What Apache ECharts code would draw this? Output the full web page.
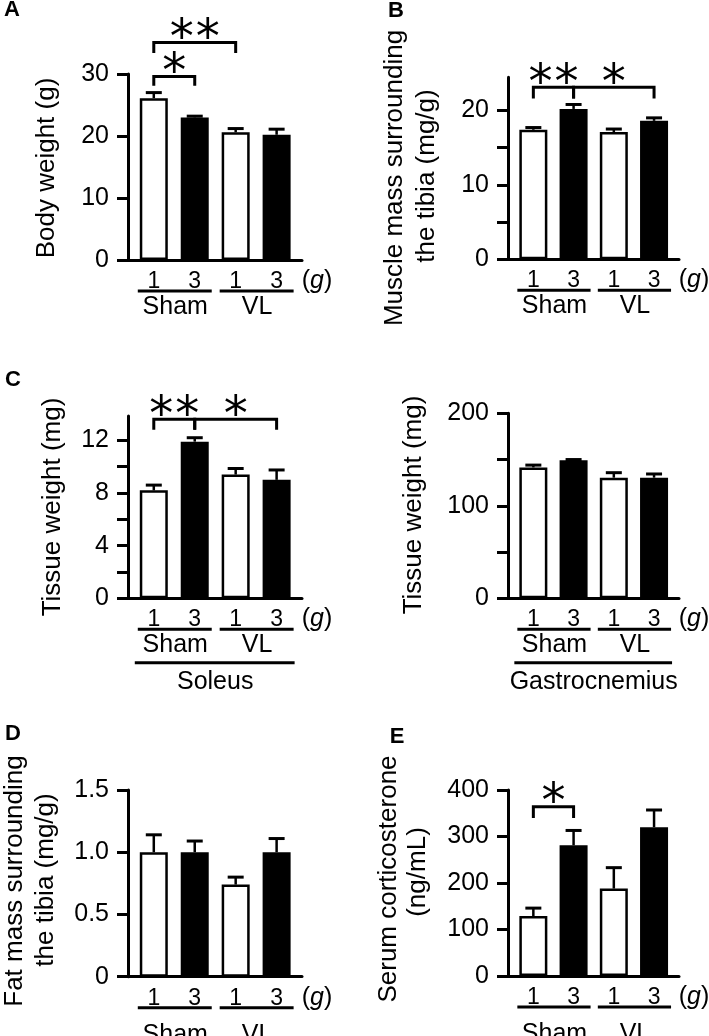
<!DOCTYPE html>
<html><head><meta charset="utf-8">
<script src="https://cdn.jsdelivr.net/npm/echarts@6/dist/echarts.min.js"></script>
<style>html,body{margin:0;padding:0;background:#fff}#c{width:709px;height:1036px}</style>
</head><body><div id="c"></div>
<script>
const FONT = '"Liberation Sans", Arial, Helvetica, sans-serif';
const STAR_FONT = '"DejaVu Sans", sans-serif';

// ---- data ----
const doses = ['1', '3', '1', '3'];
const xPos = [1, 2, 3, 4];
const groupNames = ['Sham', 'VL'];
const groupSpans = [[1, 2], [3, 4]];

const bodyWeight = [26.1, 23.0, 20.6, 20.2];
const bodyWeightSem = [0.9, 0.2, 0.6, 0.9];
const muscleMass = [17.4, 20.2, 17.1, 18.6];
const muscleMassSem = [0.3, 0.6, 0.4, 0.4];
const soleus = [8.2, 11.9, 9.4, 9.0];
const soleusSem = [0.4, 0.3, 0.46, 0.75];
const gastrocnemius = [141.5, 149.2, 130.4, 130.4];
const gastrocnemiusSem = [2.5, 0.8, 5.4, 4.0];
const fatMass = [1.0, 1.0, 0.74, 1.0];
const fatMassSem = [0.14, 0.09, 0.06, 0.11];
const corticosterone = [129, 281, 188, 320];
const corticosteroneSem = [17, 32, 45, 37];

const ticksA = [0, 10, 20, 30];
const labelsA = [0, 10, 20, 30];
const ticksB = [0, 5, 10, 15, 20];
const labelsB = [0, 10, 20];
const ticksC1 = [0, 2, 4, 6, 8, 10, 12];
const labelsC1 = [0, 4, 8, 12];
const ticksC2 = [0, 50, 100, 150, 200];
const labelsC2 = [0, 100, 200];
const ticksD = [0, 0.5, 1, 1.5];
const labelsD = [0, 0.5, 1, 1.5];
const ticksE = [0, 100, 200, 300, 400];
const labelsE = [0, 100, 200, 300, 400];

// significance brackets: [fromX, toX, bracketY, legEndY], marks separately
const sigA = [[1, 2, 29.6, 28.1], [1, 3, 35.1, 33.4]];
const sigAMarks = ['*', '**'];
const sigB = [[1, 2, 23.1, 21.6], [2, 4, 23.1, 21.6]];
const sigBMarks = ['**', '*'];
const sigC1 = [[1, 2, 13.6, 12.8], [2, 4, 13.6, 12.8]];
const sigC1Marks = ['**', '*'];
const sigE = [[1, 2, 364, 340]];
const sigEMarks = ['*'];

// ---- layout ----
const X_MIN = 0.37, X_MAX = 4.62;
const fmtInt = v => String(v);
const fmtOne = v => (v === 0 ? '0' : v.toFixed(1));

const panels = [
  {grid: {left: 128, top: 74, width: 174, height: 186}, yMax: 30, values: bodyWeight, sem: bodyWeightSem,
   ticks: ticksA, labels: labelsA, fmt: fmtInt, sig: sigA, marks: sigAMarks, groupOff: 47},
  {grid: {left: 508, top: 77.3, width: 171, height: 182}, yMax: 24.45, values: muscleMass, sem: muscleMassSem,
   ticks: ticksB, labels: labelsB, fmt: fmtInt, sig: sigB, marks: sigBMarks, groupOff: 47},
  {grid: {left: 128, top: 416, width: 174, height: 182.3}, yMax: 13.85, values: soleus, sem: soleusSem,
   ticks: ticksC1, labels: labelsC1, fmt: fmtInt, sig: sigC1, marks: sigC1Marks, groupOff: 47, tissue: 'Soleus'},
  {grid: {left: 508, top: 413.3, width: 171, height: 185}, yMax: 200, values: gastrocnemius, sem: gastrocnemiusSem,
   ticks: ticksC2, labels: labelsC2, fmt: fmtInt, sig: [], marks: [], groupOff: 47, tissue: 'Gastrocnemius'},
  {grid: {left: 128, top: 790, width: 174, height: 186.7}, yMax: 1.5, values: fatMass, sem: fatMassSem,
   ticks: ticksD, labels: labelsD, fmt: fmtOne, sig: [], marks: [], groupOff: 58},
  {grid: {left: 508, top: 790, width: 171, height: 186}, yMax: 400, values: corticosterone, sem: corticosteroneSem,
   ticks: ticksE, labels: labelsE, fmt: fmtInt, sig: sigE, marks: sigEMarks, groupOff: 58}
];

const grids = [], xAxes = [], yAxes = [], series = [];
const line = (x1, y1, x2, y2, w) => ({type: 'line', shape: {x1, y1, x2, y2}, style: {stroke: '#000', lineWidth: w}});
const txt = (x, y, text, size, extra) => ({type: 'text', x, y,
  style: Object.assign({text, fill: '#000', fontSize: size, fontFamily: FONT, align: 'center', verticalAlign: 'middle'}, extra || {})});

panels.forEach((p, i) => {
  grids.push(Object.assign({containLabel: false, outerBoundsMode: 'none'}, p.grid));
  xAxes.push({
    type: 'value', gridIndex: i, min: X_MIN, max: X_MAX,
    axisLine: {show: true, onZero: false, lineStyle: {color: '#000', width: 3}},
    axisTick: {show: false}, splitLine: {show: false},
    axisLabel: {show: true, customValues: xPos, formatter: v => doses[Math.round(v) - 1],
      color: '#000', fontSize: 23, fontFamily: FONT, margin: 10}
  });
  yAxes.push({
    type: 'value', gridIndex: i, min: 0, max: p.yMax,
    axisLine: {show: true, lineStyle: {color: '#000', width: 3}},
    axisTick: {show: true, inside: false, length: 11, lineStyle: {color: '#000', width: 3}, customValues: p.ticks},
    axisLabel: {show: true, customValues: p.labels, formatter: p.fmt, color: '#000', fontSize: 25, fontFamily: FONT, margin: 19},
    splitLine: {show: false}
  });
  series.push({
    type: 'bar', xAxisIndex: i, yAxisIndex: i, barWidth: 28, silent: true, z: 2,
    itemStyle: {borderColor: '#000', borderWidth: 2.5},
    data: p.values.map((v, j) => ({value: [xPos[j], v], itemStyle: {color: doses[j] === '3' ? '#000' : '#fff'}}))
  });
  series.push({
    type: 'custom', xAxisIndex: i, yAxisIndex: i, clip: false, silent: true, z: 3,
    data: p.values.map((v, j) => [xPos[j], v, v + p.sem[j]]),
    renderItem: (params, api) => {
      const b = api.coord([api.value(0), api.value(1)]);
      const t = api.coord([api.value(0), api.value(2)]);
      return {type: 'group', children: [line(b[0], b[1], t[0], t[1], 2.5), line(t[0] - 8, t[1], t[0] + 8, t[1], 3)]};
    }
  });
  if (p.sig.length) {
    series.push({
      type: 'custom', xAxisIndex: i, yAxisIndex: i, clip: false, silent: true, z: 4,
      data: p.sig,
      renderItem: (params, api) => {
        const a = api.coord([api.value(0), api.value(2)]);
        const b = api.coord([api.value(1), api.value(2)]);
        const leg = api.coord([api.value(0), api.value(3)]);
        const mark = p.marks[params.dataIndex];
        const mid = (a[0] + b[0]) / 2;
        const children = [{type: 'polyline', shape: {points: [[a[0], leg[1]], [a[0], a[1]], [b[0], b[1]], [b[0], leg[1]]]},
          style: {stroke: '#000', lineWidth: 3, fill: null}}];
        const n = mark.length;
        for (let k = 0; k < n; k++) {
          const cx = mid + (k - (n - 1) / 2) * 26;
          children.push(txt(cx, a[1] - 2, '*', 48, {fontFamily: STAR_FONT}));
        }
        return {type: 'group', children};
      }
    });
  }
  // group underline + names
  series.push({
    type: 'custom', xAxisIndex: i, yAxisIndex: i, clip: false, silent: true, z: 4,
    data: groupSpans.map(s => [s[0], s[1], 0]),
    renderItem: (params, api) => {
      const a = api.coord([api.value(0), 0]);
      const b = api.coord([api.value(1), 0]);
      return {type: 'group', children: [
        line(a[0] - 16, a[1] + 31, b[0] + 17, a[1] + 31, 3),
        txt((a[0] + b[0]) / 2 + 1, a[1] + p.groupOff, groupNames[params.dataIndex], 25)
      ]};
    }
  });
  // dose unit "(g)"
  series.push({
    type: 'custom', xAxisIndex: i, yAxisIndex: i, clip: false, silent: true, z: 4,
    data: [[X_MAX, 0]],
    renderItem: (params, api) => {
      const a = api.coord([api.value(0), api.value(1)]);
      return txt(a[0] + 15, a[1] + 21, '({i|g})', 25,
        {rich: {i: {fontStyle: 'italic', fontSize: 25, fontFamily: FONT, fill: '#000'}}});
    }
  });
  if (p.tissue) {
    series.push({
      type: 'custom', xAxisIndex: i, yAxisIndex: i, clip: false, silent: true, z: 4,
      data: [[xPos[0], xPos[3], 0]],
      renderItem: (params, api) => {
        const a = api.coord([api.value(0), 0]);
        const b = api.coord([api.value(1), 0]);
        return {type: 'group', children: [
          line(a[0] - 19, a[1] + 64.5, b[0] + 18, a[1] + 64.5, 3),
          txt((a[0] + b[0]) / 2, a[1] + 84, p.tissue, 25)
        ]};
      }
    });
  }
});

const rot = Math.PI / 2;
const title = (x, y, text) => ({type: 'text', x, y, rotation: rot,
  style: {text, fill: '#000', fontSize: 26, fontFamily: FONT, align: 'center', verticalAlign: 'middle'}});
const letter = (x, y, text) => ({type: 'text', x, y,
  style: {text, fill: '#000', fontSize: 22, fontWeight: 'bold', fontFamily: FONT, align: 'center', verticalAlign: 'middle'}});

const graphic = [
  letter(12, 10, 'A'), letter(396, 11, 'B'), letter(13, 380, 'C'), letter(13, 734, 'D'), letter(397, 737, 'E'),
  title(47, 168, 'Body weight (g)'),
  title(395, 178, 'Muscle mass surrounding'), title(427, 176, 'the tibia (mg/g)'),
  title(53, 507, 'Tissue weight (mg)'), title(414, 505, 'Tissue weight (mg)'),
  title(15, 881, 'Fat mass surrounding'), title(46, 880, 'the tibia (mg/g)'),
  title(389, 879, 'Serum corticosterone'), title(418, 872, '(ng/mL)')
];

const chart = echarts.init(document.getElementById('c'), null, {renderer: 'canvas'});
chart.setOption({
  backgroundColor: '#fff', animation: false,
  grid: grids, xAxis: xAxes, yAxis: yAxes, series, graphic
});
</script></body></html>
